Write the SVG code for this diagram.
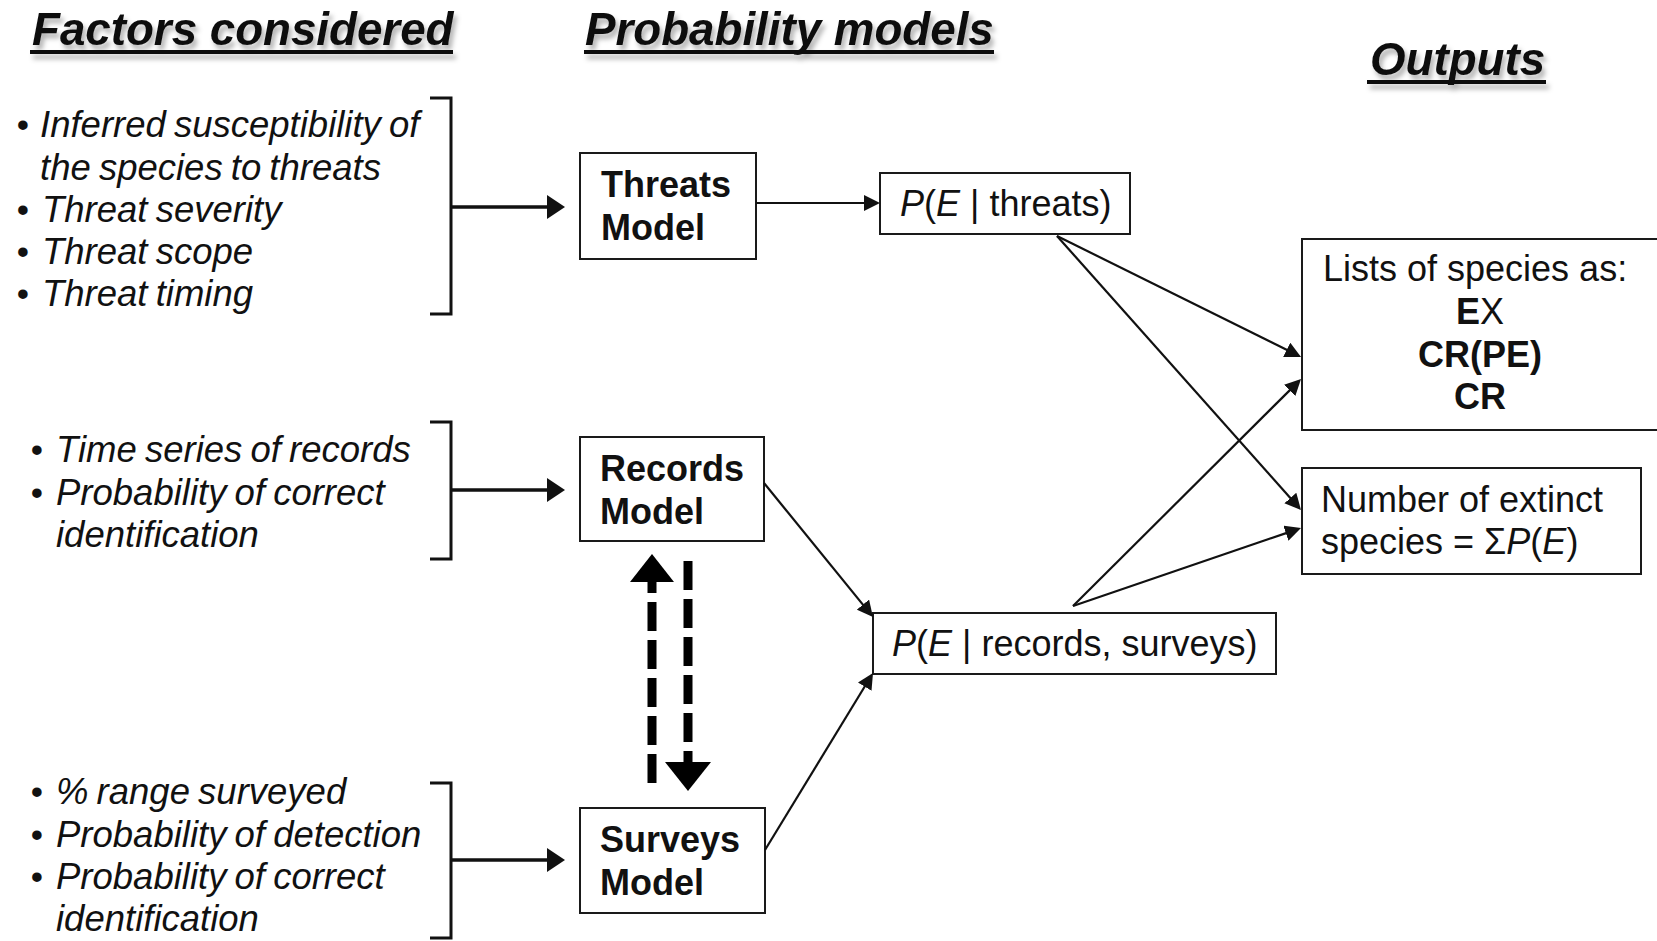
<svg xmlns="http://www.w3.org/2000/svg" width="1657" height="941" viewBox="0 0 1657 941">
<style>
text{font-family:"Liberation Sans",Arial,sans-serif;fill:#111}
.title{font-size:45.7px;font-weight:bold;font-style:italic}
.bul{font-size:36.5px;font-style:italic;word-spacing:-2px}
.dot{font-size:35px}
.model{font-size:36px;font-weight:bold}
.lbl{font-size:36px}
.it{font-style:italic}
.b{font-weight:bold}
.box{fill:#fff;stroke:#1a1a1a;stroke-width:2}
.brk{fill:none;stroke:#111;stroke-width:3}
.thick{stroke:#111;stroke-width:3.5;fill:none}
.thin{stroke:#111;stroke-width:2.2;fill:none}
.dash{stroke:#000;stroke-width:9;stroke-dasharray:29 9;fill:none}
.head{fill:#000}
</style>
<defs>
<filter id="sh" x="-5%" y="-20%" width="115%" height="160%">
<feDropShadow dx="3" dy="5" stdDeviation="2.5" flood-color="#000" flood-opacity="0.3"/>
</filter>
<marker id="ah" markerUnits="userSpaceOnUse" viewBox="0 0 16 16" refX="1" refY="8" markerWidth="16" markerHeight="16" orient="auto">
<path d="M0,0 L16,8 L0,16 z" fill="#111"/>
</marker>
<marker id="ahT" markerUnits="userSpaceOnUse" viewBox="0 0 18 24" refX="1" refY="12" markerWidth="18" markerHeight="24" orient="auto">
<path d="M0,0 L18,12 L0,24 z" fill="#111"/>
</marker>
</defs>
<rect width="1657" height="941" fill="#fff"/>

<g id="titles" filter="url(#sh)">
<text class="title" x="32" y="45">Factors considered</text>
<rect x="30" y="50" width="423" height="4" fill="#111"/>
<text class="title" x="585" y="45">Probability models</text>
<rect x="584" y="50" width="410" height="4" fill="#111"/>
<text class="title" x="1370" y="75">Outputs</text>
<rect x="1367" y="80" width="179" height="4" fill="#111"/>
</g>

<g id="factors-threats">
<text class="dot" x="23" y="137" text-anchor="middle">•</text>
<text class="bul" x="40" y="137">Inferred susceptibility of</text>
<text class="bul" x="40" y="180">the species to threats</text>
<text class="dot" x="23" y="222" text-anchor="middle">•</text>
<text class="bul" x="42" y="222">Threat severity</text>
<text class="dot" x="23" y="264" text-anchor="middle">•</text>
<text class="bul" x="42" y="264">Threat scope</text>
<text class="dot" x="23" y="306" text-anchor="middle">•</text>
<text class="bul" x="42" y="306">Threat timing</text>
<path class="brk" d="M430,98 H451 V314 H430"/>
</g>

<g id="factors-records">
<text class="dot" x="37" y="462" text-anchor="middle">•</text>
<text class="bul" x="56" y="462">Time series of records</text>
<text class="dot" x="37" y="505" text-anchor="middle">•</text>
<text class="bul" x="56" y="505">Probability of correct</text>
<text class="bul" x="56" y="547">identification</text>
<path class="brk" d="M430,422 H451 V559 H430"/>
</g>

<g id="factors-surveys">
<text class="dot" x="37" y="804" text-anchor="middle">•</text>
<text class="bul" x="56" y="804">% range surveyed</text>
<text class="dot" x="37" y="847" text-anchor="middle">•</text>
<text class="bul" x="56" y="847">Probability of detection</text>
<text class="dot" x="37" y="889" text-anchor="middle">•</text>
<text class="bul" x="56" y="889">Probability of correct</text>
<text class="bul" x="56" y="931">identification</text>
<path class="brk" d="M430,783 H451 V938 H430"/>
</g>

<g id="threats-model">
<rect class="box" x="580" y="153" width="176" height="106"/>
<text class="model" x="601" y="197">Threats</text>
<text class="model" x="601" y="240">Model</text>
</g>

<g id="records-model">
<rect class="box" x="580" y="437" width="184" height="104"/>
<text class="model" x="600" y="481">Records</text>
<text class="model" x="600" y="524">Model</text>
</g>

<g id="surveys-model">
<rect class="box" x="580" y="808" width="185" height="105"/>
<text class="model" x="600" y="852">Surveys</text>
<text class="model" x="600" y="895">Model</text>
</g>

<g id="p-threats">
<rect class="box" x="880" y="173" width="250" height="61"/>
<text class="lbl" x="900" y="216"><tspan class="it">P</tspan>(<tspan class="it">E</tspan> | threats)</text>
</g>

<g id="p-records-surveys">
<rect class="box" x="873" y="613" width="403" height="61"/>
<text class="lbl" x="892" y="656"><tspan class="it">P</tspan>(<tspan class="it">E</tspan> | records, surveys)</text>
</g>

<g id="lists">
<rect class="box" x="1302" y="239" width="380" height="191"/>
<text class="lbl" x="1323" y="281">Lists of species as:</text>
<text class="lbl" x="1480" y="324" text-anchor="middle"><tspan class="b">E</tspan>X</text>
<text class="lbl b" x="1480" y="367" text-anchor="middle">CR(PE)</text>
<text class="lbl b" x="1480" y="409" text-anchor="middle">CR</text>
</g>

<g id="number-extinct">
<rect class="box" x="1302" y="468" width="339" height="106"/>
<text class="lbl" x="1321" y="512">Number of extinct</text>
<text class="lbl" x="1321" y="554">species = Σ<tspan class="it">P</tspan>(<tspan class="it">E</tspan>)</text>
</g>

<g id="connectors">
<line class="thick" x1="451" y1="207" x2="548" y2="207" marker-end="url(#ahT)"/>
<line class="thick" x1="451" y1="490" x2="548" y2="490" marker-end="url(#ahT)"/>
<line class="thick" x1="451" y1="860" x2="548" y2="860" marker-end="url(#ahT)"/>
<line class="thin" x1="756" y1="203" x2="865" y2="203" marker-end="url(#ah)"/>
<line class="thin" x1="1057" y1="236" x2="1287.6" y2="350.3" marker-end="url(#ah)"/>
<line class="thin" x1="1057" y1="236" x2="1291" y2="498.8" marker-end="url(#ah)"/>
<line class="thin" x1="1073" y1="606" x2="1290.4" y2="389.6" marker-end="url(#ah)"/>
<line class="thin" x1="1073" y1="606" x2="1286.8" y2="532.9" marker-end="url(#ah)"/>
<line class="thin" x1="764" y1="483" x2="863.5" y2="605.4" marker-end="url(#ah)"/>
<line class="thin" x1="765" y1="850" x2="865.2" y2="685.8" marker-end="url(#ah)"/>
<path class="dash" d="M652,783 V582"/>
<polygon class="head" points="630,582 652,554 674,582"/>
<path class="dash" d="M688,561 V762"/>
<polygon class="head" points="665,762 688,791 711,762"/>
</g>
</svg>
